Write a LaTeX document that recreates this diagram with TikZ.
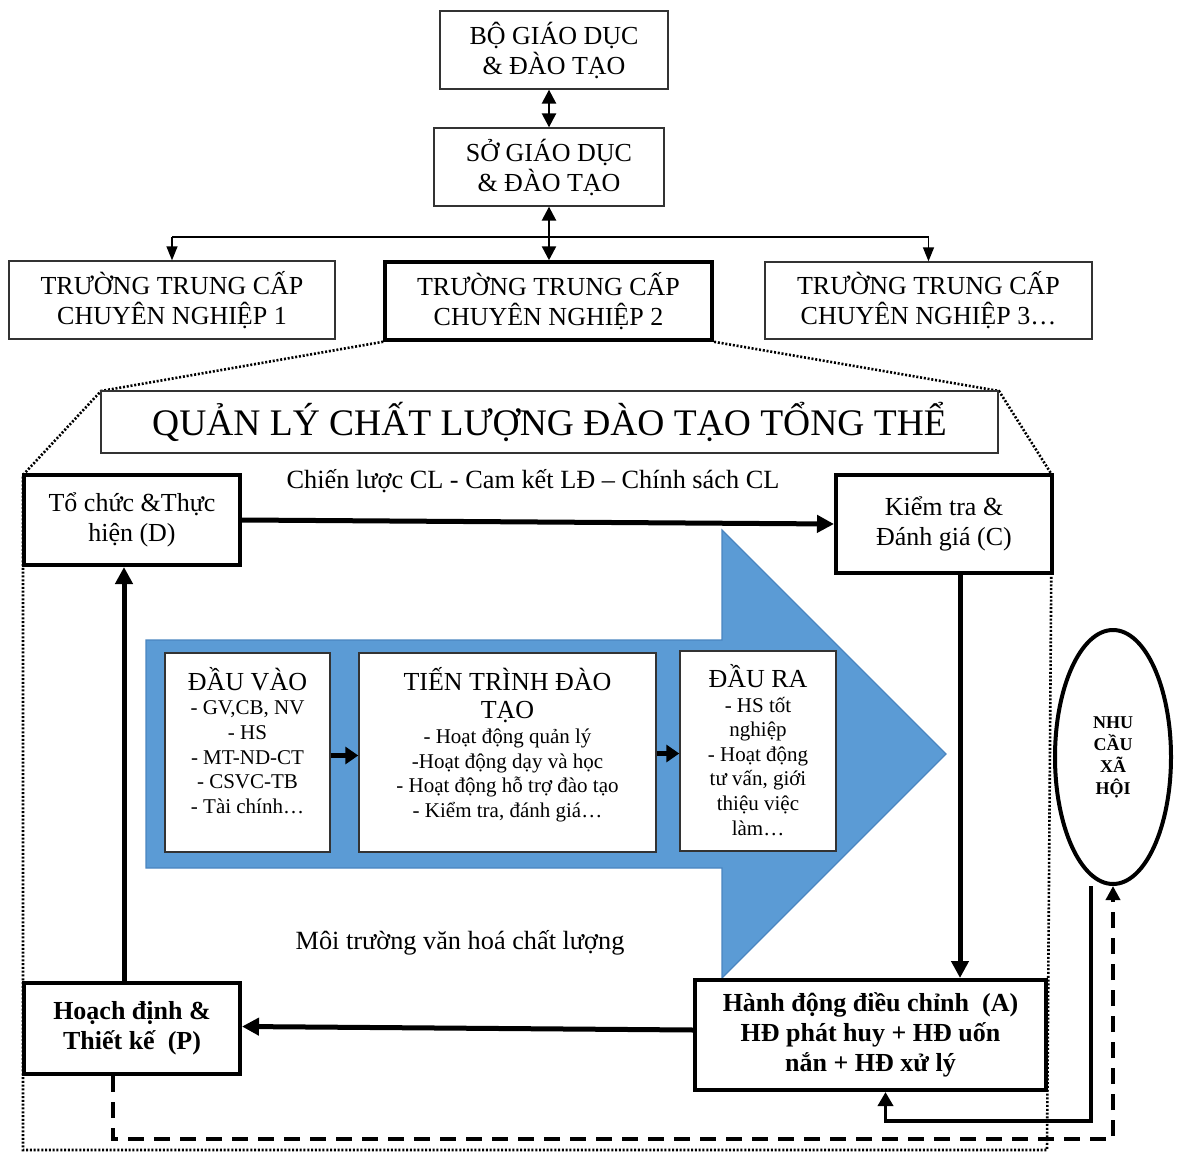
\documentclass[tikz,border=0pt]{standalone}
\usepackage{fontspec}
\setmainfont{Liberation Serif}
\usetikzlibrary{arrows.meta,shapes.geometric,calc}

\definecolor{flowblue}{HTML}{5B9BD5}
\definecolor{flowedge}{HTML}{4A85C0}
\definecolor{boxedge}{HTML}{333333}

\newcommand\fsz[2]{\fontsize{#1}{#2}\selectfont}

\begin{document}
\begin{tikzpicture}[x=1pt,y=-1pt,
  thinbox/.style={draw=boxedge, line width=1.3pt, fill=white, align=center,
    inner sep=0pt, font=\fsz{26}{30}},
  boldbox/.style={draw, line width=4pt, fill=white, align=center,
    inner sep=0pt, font=\fsz{26}{30}},
  innerbox/.style={draw=boxedge, line width=1.4pt, fill=white, inner sep=0pt},
  innertext/.style={align=center, inner sep=0pt, font=\fsz{21}{24.6}},
  bigarrow/.style={line width=5pt, -{Triangle[length=17pt,width=17pt]}},
  smallarrow/.style={line width=5pt, -{Triangle[length=13pt,width=17pt]}},
  dblarrow/.style={line width=2.5pt,
    {Triangle[length=14pt,width=14pt]}-{Triangle[length=14pt,width=14pt]}},
  thinarrow/.style={line width=1.3pt, -{Triangle[length=14pt,width=11pt]}},
  dotline/.style={line width=2.6pt, dash pattern=on 2pt off 1.8pt},
  dashline/.style={line width=4pt, dash pattern=on 16pt off 10pt}
]
\useasboundingbox (0,0) rectangle (1184,1153);

% ---- upper hierarchy ----
\node[thinbox, minimum width=228pt, minimum height=78pt] (B) at (554,50)
  {BỘ GIÁO DỤC\\\& ĐÀO TẠO};
\node[thinbox, minimum width=230pt, minimum height=78pt] (S) at (549,167)
  {SỞ GIÁO DỤC\\\& ĐÀO TẠO};
\node[thinbox, minimum width=326pt, minimum height=78pt] (T1) at (172,300)
  {TRƯỜNG TRUNG CẤP\\CHUYÊN NGHIỆP 1};
\node[thinbox, draw=black, line width=3.5pt, minimum width=327pt, minimum height=78pt] (T2) at (548.5,301)
  {TRƯỜNG TRUNG CẤP\\CHUYÊN NGHIỆP 2};
\node[thinbox, minimum width=327pt, minimum height=77pt] (T3) at (928.5,300.5)
  {TRƯỜNG TRUNG CẤP\\CHUYÊN NGHIỆP 3…};

\draw[dblarrow] (S.north |- B.south) -- (S.north);
\draw[dblarrow] (S.south) -- (S.south |- T2.north);
\coordinate (br) at (548,237);
\draw[line width=1.3pt] (T1.north |- br) -- (T3.north |- br);
\draw[thinarrow] (T1.north |- br) -- (T1.north);
\draw[thinarrow] (T3.north |- br) -- (T3.north);

% ---- zoomed frame of the school ----
\coordinate (Qnw) at (101,391);
\coordinate (Qne) at (999,391);
\coordinate (Lc) at (23,475);
\coordinate (Rc) at (1052,475);
\coordinate (LB) at (23,1150);
\coordinate (RB) at (1047,1150);
\draw[dotline] (T2.south west) -- (Qnw) -- (Lc) -- (LB) -- (RB) -- (Rc) -- (Qne) -- (T2.south east);

% ---- big process arrow ----
\filldraw[fill=flowblue, draw=flowedge, line width=1.2pt]
  (146,640) -- (722,640) -- (722,530) -- (946,754) -- (722,978)
  -- (722,868) -- (146,868) -- cycle;

% ---- title ----
\node[draw=boxedge, line width=1.3pt, fill=white, inner sep=0pt,
  minimum width=897pt, minimum height=62pt, font=\fsz{37.5}{40}] (Q) at (549.5,422)
  {QUẢN LÝ CHẤT LƯỢNG ĐÀO TẠO TỔNG THỂ};

\node[font=\fsz{26.3}{30}, inner sep=0pt] (strat) at (533,481)
  {Chiến lược CL - Cam kết LĐ – Chính sách CL};
\node[font=\fsz{26.3}{30}, inner sep=0pt] (culture) at (460,943)
  {Môi trường văn hoá chất lượng};

% ---- PDCA boxes ----
\node[boldbox, minimum width=216pt, minimum height=90pt] (D) at (132,520)
  {Tổ chức \&Thực\\hiện (D)};
\node[boldbox, minimum width=216pt, minimum height=98pt] (C) at (944,524)
  {Kiểm tra \&\\Đánh giá (C)};
\node[boldbox, minimum width=216pt, minimum height=91pt, font=\fsz{26}{30}\bfseries] (P) at (132,1028.5)
  {Hoạch định \&\\Thiết kế~ (P)};
\node[boldbox, minimum width=351pt, minimum height=110pt, font=\fsz{26}{30}\bfseries] (A) at (870.5,1035)
  {Hành động điều chỉnh~ (A)\\HĐ phát huy + HĐ uốn\\nắn + HĐ xử lý};

% ---- society needs ----
\node[draw, ellipse, line width=4pt, fill=white, inner sep=0pt,
  minimum width=116pt, minimum height=254pt, align=center,
  font=\fsz{18}{22}\bfseries] (E) at (1113,757)
  {NHU\\CẦU\\XÃ\\HỘI};

% ---- input / process / output ----
\node[innerbox, minimum width=165pt, minimum height=199pt] (VAO) at (247.5,752.5) {};
\node[innerbox, minimum width=297pt, minimum height=199pt] (TIEN) at (507.5,752.5) {};
\node[innerbox, minimum width=156pt, minimum height=200pt] (RA) at (758,751) {};

\node[innertext] (VAOt) at (247.5,740.5)
  {{\fsz{26}{29}ĐẦU VÀO}\\- GV,CB, NV\\- HS\\- MT-ND-CT\\- CSVC-TB\\- Tài chính…};
\node[innertext] (TIENt) at (507.5,744.5)
  {{\fsz{26}{29}TIẾN TRÌNH ĐÀO}\\[4pt]{\fsz{26}{29}TẠO}\\- Hoạt động quản lý\\-Hoạt động dạy và học\\- Hoạt động hỗ trợ đào tạo\\- Kiểm tra, đánh giá…};
\node[innertext] (RAt) at (758,750)
  {{\fsz{26}{29}ĐẦU RA}\\- HS tốt\\nghiệp\\- Hoạt động\\tư vấn, giới\\thiệu việc\\làm…};

\draw[smallarrow] ([yshift=-3pt]VAO.east) -- ([yshift=-3pt]TIEN.west);
\draw[smallarrow] ([yshift=-1pt]TIEN.east) -- ([yshift=-1pt]TIEN.east -| RA.west);

% ---- PDCA cycle ----
\draw[bigarrow] (D.east) -- (C.west);
\draw[bigarrow] ([xshift=16pt]C.south) -- ([xshift=16pt]C.south |- A.north);
\draw[bigarrow] ([yshift=5pt]A.west) -- ([yshift=2pt]P.east);
\draw[bigarrow] ([xshift=-8pt]P.north) -- ([xshift=-8pt]D.south);

% ---- feedback with society ----
\draw[dashline, -{Triangle[length=14pt,width=14pt]}]
  ([xshift=-19pt]P.south) -- ++(0,63) -| (E.south);
\draw[line width=3.5pt, -{Triangle[length=14pt,width=15pt]}]
  ([xshift=-22pt]E.south) -- ++(0,235) -| ([xshift=15pt]A.south);
\end{tikzpicture}
\end{document}
